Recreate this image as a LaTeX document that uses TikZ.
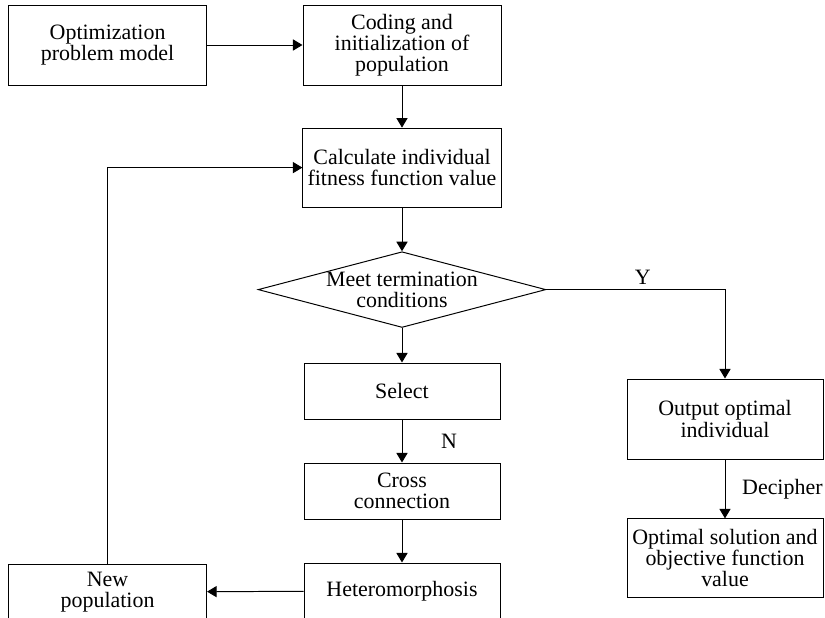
\documentclass[tikz,border=0pt]{standalone}
\usepackage{fontspec}
\setmainfont{Liberation Serif}
\usetikzlibrary{arrows.meta, positioning, shapes.geometric}

\begin{document}
\begin{tikzpicture}[->, >={Triangle[length=0.24cm, width=0.28cm]},
			line width=0.7pt,
			every node/.style={font=\fontsize{15.6}{15}\selectfont},
			box/.style={rectangle, draw, align=center, minimum width=4.95cm, minimum height=2cm},
			smallbox/.style={box, minimum width=4.9cm, minimum height=1.4cm},
			cond/.style={diamond, draw, align=center, inner sep=0pt, shape aspect=3.8,
				minimum width=6.95cm, minimum height=1.83cm}]
			
			\useasboundingbox (0,0) rectangle (20.625,-15.44);
			
			% Blocchi principali
			\node[box] (model) at (2.69,-1.125) {Optimization\\problem model};
			\node[box] (init) at (10.05,-1.125) {Coding and\\initialization of\\population};
			\node[box, minimum height=1.975cm] (fitness) at (10.05,-4.19) {Calculate individual\\fitness function value};
			\node[cond] (stop) at (10.05,-7.24) {Meet termination\\conditions};
			\node[smallbox] (select) at (10.05,-9.775) {Select};
			\node[smallbox] (cross) at (10.05,-12.275) {Cross\\connection};
			\node[smallbox] (mutate) at (10.05,-14.775) {Heteromorphosis};
			\node[box, minimum height=1.4cm] (newpop) at (2.69,-14.8) {New\\population};
			\node[box, minimum width=4.9cm] (best) at (18.125,-10.475) {Output optimal\\individual};
			\node[box, minimum width=4.9cm, minimum height=1.975cm] (result) at (18.125,-13.96) {Optimal solution and\\objective function\\value};
			
			% --- Collegamenti ---
			\draw (model) -- (init);
			\draw (init) -- (fitness);
			\draw (fitness) -- (stop);
			\draw (stop) -- (select);
			\draw (select) -- node[right=0.85cm]{N} (cross);
			\draw (cross) -- (mutate);
			\draw (mutate) -- (newpop);
			\draw (newpop.north) |- (fitness.west);
			
			% Uscita
			\draw (stop.east) -| node[pos=0.27, above]{Y} (best.north);
			\draw (best) -- node[right=0.3cm]{Decipher} (result);
		\end{tikzpicture}
\end{document}
